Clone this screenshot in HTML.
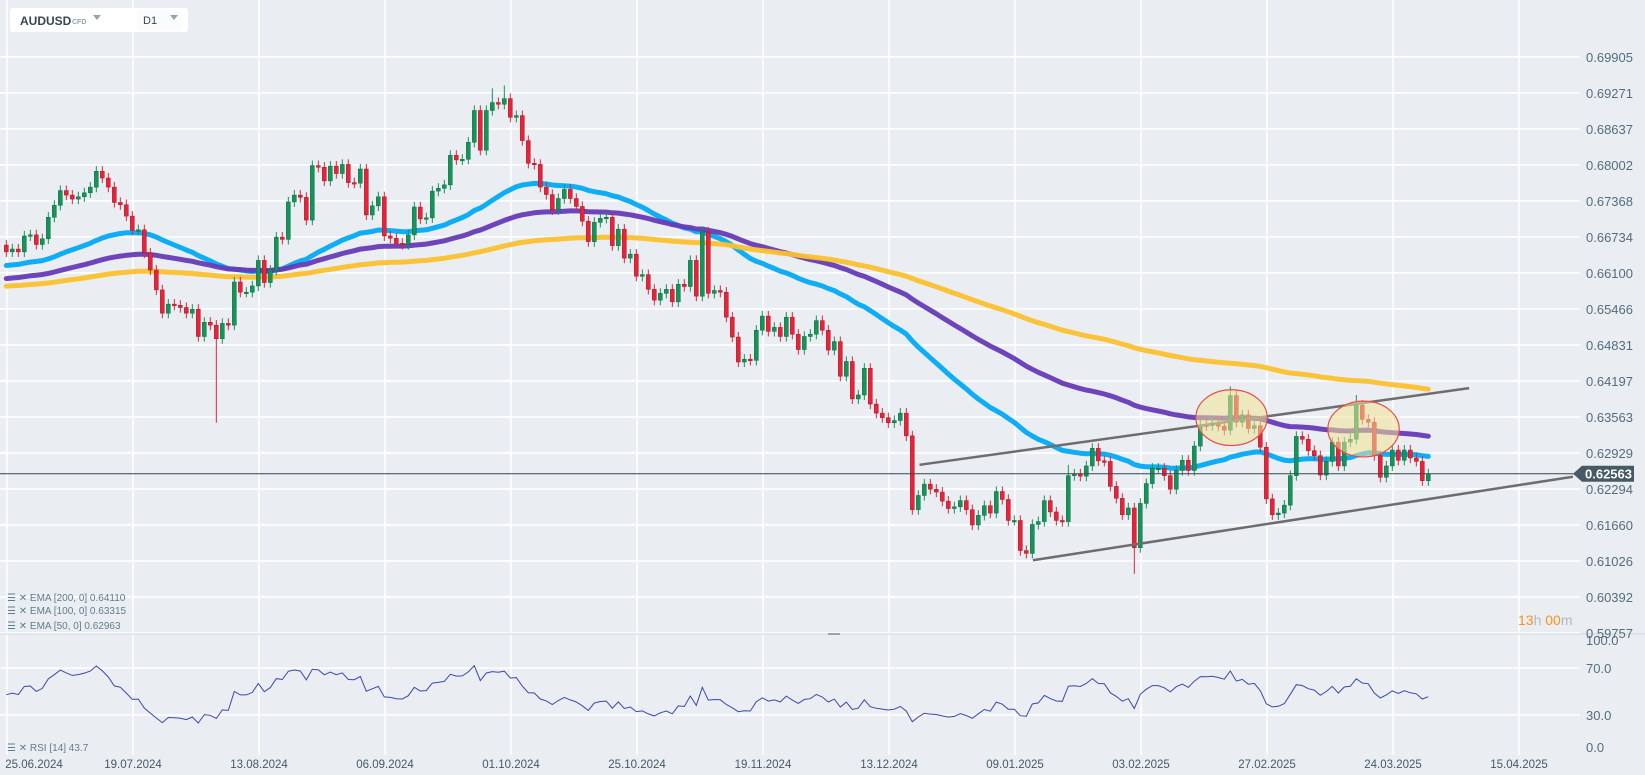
<!DOCTYPE html>
<html><head><meta charset="utf-8"><style>
html,body{margin:0;padding:0;background:#eaeef2;}
svg{display:block;font-family:"Liberation Sans",sans-serif;}
</style></head><body>
<svg id="chart" width="1645" height="775" viewBox="0 0 1645 775" xmlns="http://www.w3.org/2000/svg">
<rect x="0" y="0" width="1645" height="775" fill="#eaeef2"/>
<g id="grid"></g>
<g id="ema"></g>
<g id="candles"></g>
<g id="annot"></g>
<g id="rsi"></g>
<g id="axes"></g>
<g>
<rect x="10" y="8" width="178" height="24" rx="3" fill="#ffffff"/>
<rect x="137" y="10" width="44" height="20" rx="2" fill="#fafbfc"/>
<text x="20" y="25" font-size="12" font-weight="bold" fill="#37474f">AUDUSD</text>
<text x="72" y="24" font-size="7" fill="#90a4ae" font-weight="bold">CFD</text>
<path d="M93 15 L101 15 L97 20 Z" fill="#90a4ae"/>
<text x="143" y="24" font-size="11" fill="#37474f">D1</text>
<path d="M170 15 L178 15 L174 20 Z" fill="#90a4ae"/>
</g>
<g>
<text x="7" y="601" font-size="10" fill="#607d8b">☰ ✕ EMA [200,  0] 0.64110</text>
<text x="7" y="614" font-size="10" fill="#607d8b">☰ ✕ EMA [100,  0] 0.63315</text>
<text x="7" y="629" font-size="10" fill="#607d8b">☰ ✕ EMA [50,  0] 0.62963</text>
<text x="7" y="751" font-size="10" fill="#607d8b">☰ ✕ RSI [14]  43.7</text>
</g>
<text x="1518" y="625" font-size="14" fill="#f7931a">13<tspan fill="#b0b8bf">h</tspan> 00<tspan fill="#b0b8bf">m</tspan></text>
</svg>
<script>
const closes=[0.6647,0.6652,0.6647,0.6675,0.6677,0.6660,0.6670,0.6708,0.6729,0.6755,0.6747,0.6740,0.6744,0.6751,0.6761,0.6789,0.6777,0.6761,0.6734,0.6730,0.6710,0.6685,0.6686,0.6645,0.6615,0.6580,0.6539,0.6555,0.6553,0.6549,0.6539,0.6546,0.6498,0.6523,0.6518,0.6494,0.6521,0.6518,0.6594,0.6576,0.6576,0.6587,0.6632,0.6593,0.6615,0.6673,0.6669,0.6735,0.6747,0.6743,0.6703,0.6799,0.6796,0.6772,0.6798,0.6785,0.6801,0.6769,0.6768,0.6793,0.6712,0.6728,0.6744,0.6675,0.6671,0.6662,0.6660,0.6677,0.6726,0.6705,0.6707,0.6754,0.6759,0.6765,0.6817,0.6809,0.6810,0.6840,0.6896,0.6826,0.6896,0.6910,0.6907,0.6917,0.6884,0.6887,0.6843,0.6803,0.6801,0.6761,0.6748,0.6721,0.6741,0.6757,0.6741,0.6727,0.6701,0.6665,0.6699,0.6706,0.6708,0.6658,0.6687,0.6636,0.6643,0.6604,0.6607,0.6581,0.6562,0.6574,0.6581,0.6559,0.6590,0.6586,0.6632,0.6569,0.6682,0.6574,0.6579,0.6576,0.6532,0.6497,0.6453,0.6458,0.6456,0.6509,0.6534,0.6507,0.6514,0.6498,0.6532,0.6502,0.6475,0.6498,0.6502,0.6526,0.6509,0.6474,0.6489,0.6428,0.6454,0.6388,0.6395,0.6442,0.6379,0.6363,0.6355,0.6346,0.6350,0.6363,0.6323,0.6193,0.6218,0.6238,0.6229,0.6224,0.6208,0.6195,0.6198,0.6209,0.6193,0.6166,0.6183,0.6200,0.6187,0.6225,0.6211,0.6174,0.6174,0.6121,0.6116,0.6167,0.6172,0.6209,0.6189,0.6174,0.6172,0.6253,0.6256,0.6252,0.6270,0.6301,0.6279,0.6278,0.6234,0.6213,0.6184,0.6196,0.6126,0.6204,0.6239,0.6266,0.6266,0.6253,0.6229,0.6262,0.6280,0.6262,0.6305,0.6342,0.6341,0.6346,0.6340,0.6333,0.6394,0.6347,0.6360,0.6336,0.6341,0.6303,0.6212,0.6184,0.6187,0.6201,0.6253,0.6322,0.6317,0.6297,0.6288,0.6254,0.6278,0.6312,0.6270,0.6312,0.6317,0.6377,0.6352,0.6347,0.6288,0.6250,0.6270,0.6298,0.6280,0.6298,0.6284,0.6278,0.6244,0.6256];
const firstOpen=0.6659;
const wickOverrides={35:[null,0.6346],188:[null,0.6080],83:[0.6940,null],81:[0.6935,null],204:[0.6410,null],225:[0.6395,null],177:[0.6272,null]};
const emaSeeds=[0.6622,0.6599,0.6586];
const emaPeriods=[50,100,200];
const emaColors=["#03a9f4","#673ab7","#fbc02d"];
const priceTicks=["0.69905","0.69271","0.68637","0.68002","0.67368","0.66734","0.66100","0.65466","0.64831","0.64197","0.63563","0.62929","0.62294","0.61660","0.61026","0.60392","0.59757"];
const dateLabels=["25.06.2024","19.07.2024","13.08.2024","06.09.2024","01.10.2024","25.10.2024","19.11.2024","13.12.2024","09.01.2025","03.02.2025","27.02.2025","24.03.2025","15.04.2025"];
const rsiTicks=[100,70,30,0];
const lastPrice=0.62563;

const NS="http://www.w3.org/2000/svg";
function el(tag,attrs,parent){const e=document.createElementNS(NS,tag);for(const k in attrs)e.setAttribute(k,attrs[k]);parent.appendChild(e);return e;}
const xOf=i=>6.33+6*i;
const yOf=p=>489-(p-0.62294)/0.00634*36;
const rsiY=v=>750-v*1.17;
const G=id=>document.getElementById(id);

const grid=G('grid');
priceTicks.forEach((t,k)=>{const y=yOf(parseFloat(t));
const l=el('line',{x1:0,x2:1580,y1:y,y2:y,stroke:'#ffffff','stroke-width':1.5},grid);

});
dateLabels.forEach((d,k)=>{const x=7+126*k;
const l=el('line',{x1:x,x2:x,y1:0,y2:755,stroke:'#ffffff','stroke-width':1.5},grid);

});
[70,30].forEach(v=>{const l=el('line',{x1:0,x2:1580,y1:rsiY(v),y2:rsiY(v),stroke:'#ffffff','stroke-width':1.5},grid);

});
const sep=el('line',{x1:0,x2:1645,y1:634,y2:634,stroke:'#cfd6dc','stroke-width':1},grid);


const hnd=el('rect',{x:828,y:633,width:12,height:2,fill:'#9aa5ae'},grid);



const emaG=G('ema');
emaPeriods.forEach((per,j)=>{const a=2/(per+1);let e=emaSeeds[j];const pts=[];
closes.forEach((c,i)=>{e=a*c+(1-a)*e;pts.push(xOf(i).toFixed(1)+','+yOf(e).toFixed(1));});
const pl=el('polyline',{points:pts.join(' '),fill:'none',stroke:emaColors[j],'stroke-width':5,'stroke-linejoin':'round','stroke-linecap':'round','opacity':0.95},emaG);

});

const cg=G('candles');
closes.forEach((c,i)=>{const o=i?closes[i-1]:firstOpen;const up=c>=o;
const col=up?'#16935a':'#e3243a';const x=xOf(i);
let hi=Math.max(o,c)+0.0009,lo=Math.min(o,c)-0.0009;
if(wickOverrides[i]){if(wickOverrides[i][0]!==null)hi=wickOverrides[i][0];if(wickOverrides[i][1]!==null)lo=wickOverrides[i][1];}
const w=el('line',{x1:x,x2:x,y1:yOf(hi),y2:yOf(lo),stroke:col,'stroke-width':1},cg);


const yt=yOf(Math.max(o,c)),yb=yOf(Math.min(o,c));
const b=el('rect',{x:x-2,y:yt,width:4,height:Math.max(1.5,yb-yt),fill:col,stroke:up?'#0d6b40':'#a8182a','stroke-width':0.5},cg);

});

const an=G('annot');
function tl(i1,p1,i2,p2,name){const l=el('line',{x1:xOf(i1),y1:yOf(p1),x2:xOf(i2),y2:yOf(p2),stroke:'#6d6d6d','stroke-width':2.5},an);

}
tl(152.2,0.6272,243.8,0.6407,'upper-trendline');
tl(171.1,0.6104,261.1,0.6251,'lower-trendline');
[[204.2,0.6355],[226.2,0.6335]].forEach((c,k)=>{const e=el('ellipse',{cx:xOf(c[0]),cy:yOf(c[1]),rx:35.7,ry:27.9,fill:'rgba(240,228,150,0.55)',stroke:'#e84c4c','stroke-width':1.2},an);

});
const pl=el('line',{x1:0,x2:1578,y1:yOf(lastPrice),y2:yOf(lastPrice),stroke:'#37474f','stroke-width':1},an);



const rg=G('rsi');let ag=0.0008,al=0.0008;const rp=[];
closes.forEach((c,i)=>{const o=i?closes[i-1]:firstOpen;const d=c-o;
ag=(ag*13+Math.max(d,0))/14;al=(al*13+Math.max(-d,0))/14;const v=100-100/(1+ag/al);
rp.push(xOf(i).toFixed(1)+','+rsiY(v).toFixed(1));});
const rl=el('polyline',{points:rp.join(' '),fill:'none',stroke:'#3949ab','stroke-width':1},rg);



const ax=G('axes');
priceTicks.forEach(t=>{const tx=el('text',{x:1586,y:yOf(parseFloat(t))+5,'font-size':13,fill:'#546e7a'},ax);tx.textContent=t;

});
rsiTicks.forEach(v=>{const y=v===100?rsiY(v)+12:(v===0?rsiY(v)+2:rsiY(v)+5);
const tx=el('text',{x:1586,y:y,'font-size':13,fill:'#546e7a'},ax);tx.textContent=v.toFixed(1);

});
dateLabels.forEach((d,k)=>{const x=Math.max(7+126*k,34);
const tx=el('text',{x:x,y:768,'font-size':11.5,fill:'#455a64','text-anchor':'middle'},ax);tx.textContent=d;

});
const yl=yOf(lastPrice);
const tag=el('path',{d:`M1573 ${yl} L1582 ${yl-8} L1634 ${yl-8} L1634 ${yl+8} L1582 ${yl+8} Z`,fill:'#455a64'},ax);


const tt=el('text',{x:1585,y:yl+5,'font-size':13,fill:'#ffffff','font-weight':'bold'},ax);tt.textContent=lastPrice.toFixed(5);


</script>
</body></html>
